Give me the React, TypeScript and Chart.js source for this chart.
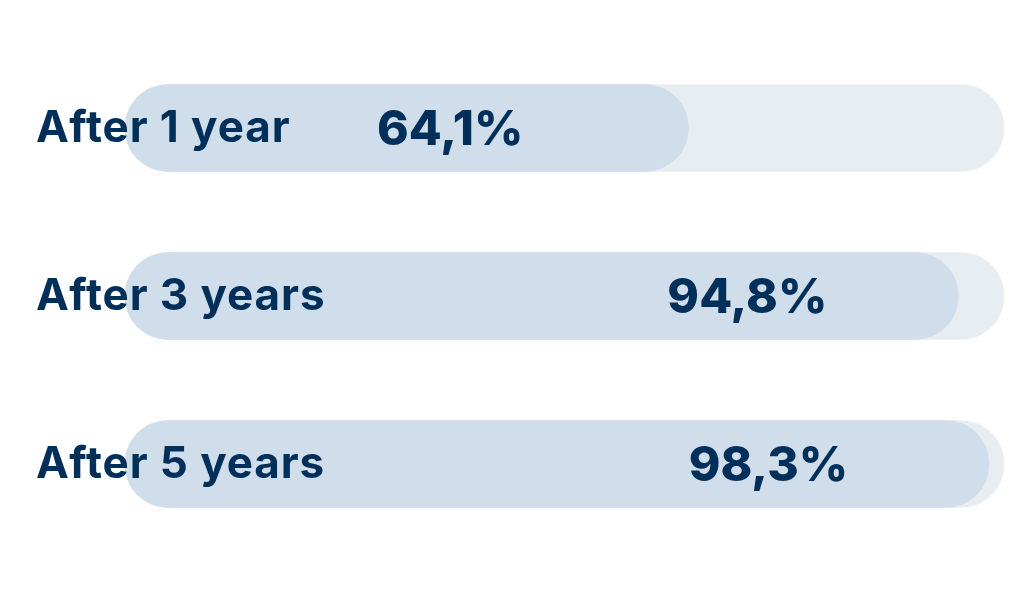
import React, { useEffect, useRef } from "react";
import { Chart, registerables } from "chart.js";

Chart.register(...registerables);

const categories = ["After 1 year", "After 3 years", "After 5 years"];
const values = [64.1, 94.8, 98.3];
const valueLabels = ["64,1%", "94,8%", "98,3%"];
const trackMax = [100, 100, 100];
// where each value label is centred, in axis units
const valueLabelAt = [37, 70.8, 73.2];

const NAVY = "#00305A";
const BAR = "#D0DDEA";
const TRACK = "#E8EDF2";
const FONT = "Inter, 'DejaVu Sans', sans-serif";

const labelsPlugin = {
  id: "labelsPlugin",
  afterDatasetsDraw(chart: any) {
    const { ctx, scales } = chart;
    const xs = scales.x;
    const ys = scales.y;
    ctx.save();
    ctx.fillStyle = NAVY;
    ctx.textBaseline = "middle";
    categories.forEach((c, i) => {
      const y = ys.getPixelForValue(i);
      ctx.font = `700 44px ${FONT}`;
      ctx.letterSpacing = "0.9px";
      ctx.textAlign = "left";
      ctx.fillText(c, 36, y + 1);
      ctx.letterSpacing = "0px";
      ctx.font = `800 48px ${FONT}`;
      ctx.textAlign = "center";
      ctx.fillText(valueLabels[i], xs.getPixelForValue(valueLabelAt[i]), y + 3);
    });
    ctx.restore();
  },
};

export default function App() {
  const ref = useRef<HTMLCanvasElement | null>(null);
  useEffect(() => {
    if (!ref.current) return;
    const chart = new Chart(ref.current, {
      type: "bar",
      data: {
        labels: categories,
        datasets: [
          {
            data: values,
            backgroundColor: BAR,
            borderRadius: 999,
            borderSkipped: false,
            barThickness: 87,
            grouped: false,
            order: 0,
          } as any,
          {
            data: trackMax,
            backgroundColor: TRACK,
            borderRadius: 999,
            borderSkipped: false,
            barThickness: 87,
            grouped: false,
            order: 1,
          } as any,
        ],
      },
      options: {
        indexAxis: "y",
        animation: false,
        responsive: false,
        maintainAspectRatio: false,
        layout: { padding: { left: 125, right: 20, top: 44, bottom: 52 } },
        plugins: { legend: { display: false }, tooltip: { enabled: false } },
        scales: {
          x: { display: false, min: 0, max: 100 },
          y: { display: false },
        },
      },
      plugins: [labelsPlugin],
    });
    return () => chart.destroy();
  }, []);
  return (
    <div style={{ position: "fixed", left: 0, top: 0, width: 1024, height: 600, background: "#fff" }}>
      <canvas ref={ref} width={1024} height={600} style={{ width: 1024, height: 600 }} />
    </div>
  );
}
